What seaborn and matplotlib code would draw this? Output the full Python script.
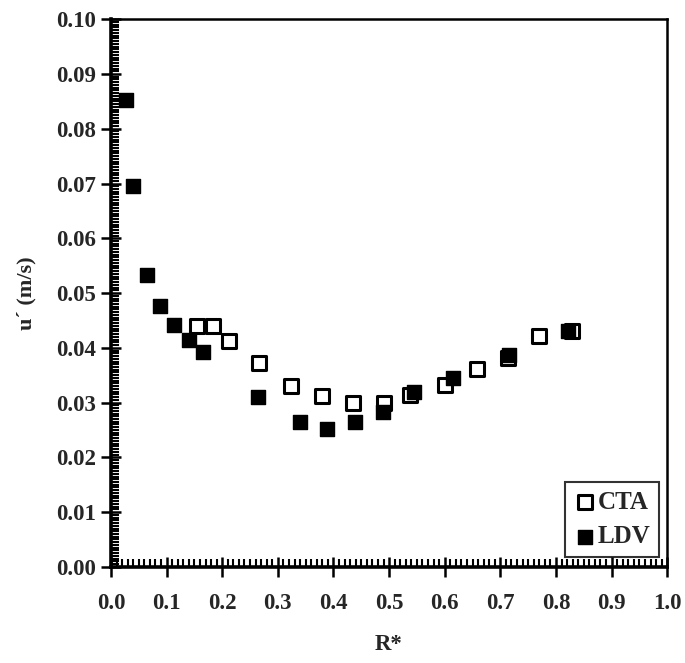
import matplotlib
matplotlib.use("Agg")
import matplotlib.pyplot as plt
from matplotlib.ticker import MultipleLocator, FormatStrFormatter
import seaborn as sns
import pandas as pd

# Turbulence intensity profiles measured by the two techniques
cta_r = [0.155, 0.183, 0.212, 0.267, 0.323, 0.379, 0.436, 0.490, 0.537,
         0.601, 0.658, 0.713, 0.770, 0.829]
cta_u = [0.0440, 0.0440, 0.0412, 0.0372, 0.0331, 0.0312, 0.0300, 0.0300, 0.0313,
         0.0332, 0.0361, 0.0381, 0.0422, 0.0431]

ldv_r = [0.027, 0.040, 0.064, 0.089, 0.113, 0.140, 0.165, 0.264, 0.339,
         0.389, 0.439, 0.489, 0.545, 0.615, 0.716, 0.822]
ldv_u = [0.0852, 0.0695, 0.0533, 0.0476, 0.0442, 0.0414, 0.0393, 0.0311, 0.0264,
         0.0252, 0.0264, 0.0282, 0.0320, 0.0345, 0.0387, 0.0430]

x_ticks = [0.0, 0.1, 0.2, 0.3, 0.4, 0.5, 0.6, 0.7, 0.8, 0.9, 1.0]
y_ticks = [0.00, 0.01, 0.02, 0.03, 0.04, 0.05, 0.06, 0.07, 0.08, 0.09, 0.10]

cta = pd.DataFrame({"R": cta_r, "u": cta_u})
ldv = pd.DataFrame({"R": ldv_r, "u": ldv_u})

sns.set_style("white")
plt.rcParams["font.family"] = ["Liberation Serif", "DejaVu Serif"]
plt.rcParams["font.weight"] = "bold"

fig = plt.figure(figsize=(6.85, 6.63), dpi=100)
ax = fig.add_axes([0.162, 0.145, 0.812, 0.826])

sns.scatterplot(data=cta, x="R", y="u", ax=ax, marker="s", s=95,
                facecolor="white", edgecolor="black", linewidth=2.2, label="CTA",
                zorder=3)
sns.scatterplot(data=ldv, x="R", y="u", ax=ax, marker="s", s=115,
                color="black", edgecolor="black", linewidth=1.0, label="LDV",
                zorder=4)

ax.set_xlim(0.0, 1.0)
ax.set_ylim(0.0, 0.10)
ax.set_xticks(x_ticks)
ax.set_yticks(y_ticks)
ax.xaxis.set_major_formatter(FormatStrFormatter("%.1f"))
ax.yaxis.set_major_formatter(FormatStrFormatter("%.2f"))
ax.xaxis.set_minor_locator(MultipleLocator(0.01))
ax.yaxis.set_minor_locator(MultipleLocator(0.0005))

ax.tick_params(axis="both", which="major", direction="inout", length=14,
               width=1.8, color="black", labelsize=16.5,
               bottom=True, left=True, top=False, right=False)
ax.tick_params(axis="both", which="minor", direction="in", length=6,
               width=1.5, color="black",
               bottom=True, left=True, top=False, right=False)
ax.tick_params(axis="x", which="major", pad=12)
ax.tick_params(axis="y", which="major", pad=4)
for lab in ax.get_xticklabels() + ax.get_yticklabels():
    lab.set_fontweight("bold")

for side in ["left", "bottom"]:
    ax.spines[side].set_linewidth(2.6)
for side in ["top", "right"]:
    ax.spines[side].set_linewidth(1.8)
for sp in ax.spines.values():
    sp.set_color("black")
    sp.set_visible(True)

ax.set_xlabel("R*", fontsize=16.5, fontweight="bold", labelpad=14)
ax.set_ylabel("u\u00b4 (m/s)", fontsize=16, fontweight="bold", labelpad=14)

leg = ax.legend(loc="lower right", bbox_to_anchor=(0.985, 0.018),
                frameon=True, fancybox=False, edgecolor="black",
                prop={"family": "Liberation Serif", "weight": "bold", "size": 18},
                handletextpad=0.05, handlelength=0.9, borderpad=0.35,
                labelspacing=0.45, borderaxespad=0.0)
leg.get_frame().set_linewidth(1.5)

fig.savefig("out.png", dpi=100, facecolor="white")
